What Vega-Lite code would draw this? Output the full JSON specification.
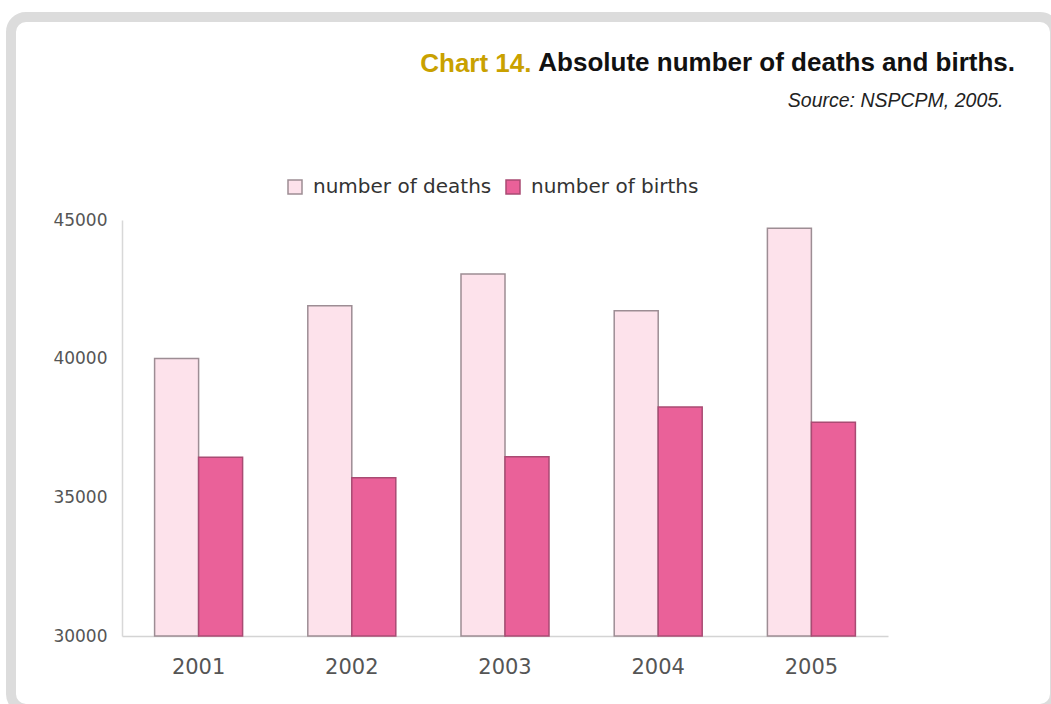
{
  "$schema": "https://vega.github.io/schema/vega-lite/v6.json",
  "width": 1044,
  "height": 692,
  "autosize": {"type": "none"},
  "padding": {"left": 11, "top": 17, "right": -4, "bottom": -5},
  "background": "white",
  "title": {
    "text": "Absolute number of deaths and births.",
    "anchor": "end",
    "frame": "group",
    "orient": "top",
    "offset": -80,
    "baseline": "alphabetic",
    "dx": -40,
    "font": "Liberation Sans",
    "fontSize": 26,
    "fontWeight": "bold",
    "color": "#111111"
  },
  "data": {
    "values": [
      {"year": "2001", "series": "number of deaths", "value": 40010},
      {"year": "2001", "series": "number of births", "value": 36444},
      {"year": "2002", "series": "number of deaths", "value": 41910},
      {"year": "2002", "series": "number of births", "value": 35708},
      {"year": "2003", "series": "number of deaths", "value": 43053},
      {"year": "2003", "series": "number of births", "value": 36465},
      {"year": "2004", "series": "number of deaths", "value": 41730},
      {"year": "2004", "series": "number of births", "value": 38257},
      {"year": "2005", "series": "number of deaths", "value": 44701},
      {"year": "2005", "series": "number of births", "value": 37706}
    ]
  },
  "mark": {"type": "bar", "strokeWidth": 1.5},
  "encoding": {
    "x": {
      "field": "year",
      "type": "nominal",
      "scale": {"range": [111, 877], "paddingInner": 0.4256, "paddingOuter": 0.2128},
      "axis": {
        "orient": "bottom",
        "offset": -73,
        "domainColor": "#d4d4d4",
        "domainWidth": 1.5,
        "ticks": false,
        "labelPadding": 20,
        "labelAngle": 0,
        "labelFont": "DejaVu Sans",
        "labelFontSize": 21,
        "labelColor": "#555555",
        "title": "Source: NSPCPM, 2005.",
        "titleX": 992,
        "titleY": -530,
        "titleAlign": "right",
        "titleBaseline": "alphabetic",
        "titleFont": "Liberation Sans",
        "titleFontSize": 19.5,
        "titleFontStyle": "italic",
        "titleFontWeight": "normal",
        "titleColor": "#222222"
      }
    },
    "xOffset": {
      "field": "series",
      "type": "nominal",
      "sort": ["number of deaths", "number of births"],
      "scale": {"paddingInner": 0, "paddingOuter": 0}
    },
    "y": {
      "field": "value",
      "type": "quantitative",
      "scale": {"domain": [30000, 45000], "range": [619, 203], "nice": false, "zero": false},
      "axis": {
        "offset": -111,
        "values": [30000, 35000, 40000, 45000],
        "format": "d",
        "grid": false,
        "domainColor": "#d8d8d8",
        "domainWidth": 1.5,
        "ticks": false,
        "labelPadding": 15,
        "labelFont": "DejaVu Sans",
        "labelFontSize": 17,
        "labelColor": "#555555",
        "title": "Chart 14.",
        "titleAngle": 0,
        "titleX": 409,
        "titleY": 54,
        "titleAlign": "right",
        "titleBaseline": "alphabetic",
        "titleFont": "Liberation Sans",
        "titleFontSize": 26,
        "titleFontWeight": "bold",
        "titleColor": "#c9a100"
      }
    },
    "y2": {"datum": 30000},
    "fill": {
      "field": "series",
      "type": "nominal",
      "scale": {"domain": ["number of deaths", "number of births"], "range": ["#fde2eb", "#ea6199"]},
      "legend": {
        "orient": "none",
        "legendX": 274,
        "legendY": 160,
        "direction": "horizontal",
        "title": null,
        "labelFont": "DejaVu Sans",
        "labelFontSize": 20,
        "labelColor": "#333333",
        "labelLimit": 0,
        "symbolType": "square",
        "symbolSize": 196,
        "symbolStrokeWidth": 1.5,
        "labelOffset": 8,
        "columnPadding": 11,
        "padding": 0
      }
    },
    "stroke": {
      "field": "series",
      "type": "nominal",
      "scale": {"domain": ["number of deaths", "number of births"], "range": ["#9d8d94", "#a94b73"]},
      "legend": {
        "orient": "none",
        "legendX": 274,
        "legendY": 160,
        "direction": "horizontal",
        "title": null,
        "labelFont": "DejaVu Sans",
        "labelFontSize": 20,
        "labelColor": "#333333",
        "labelLimit": 0,
        "symbolType": "square",
        "symbolSize": 196,
        "symbolStrokeWidth": 1.5,
        "labelOffset": 8,
        "columnPadding": 11,
        "padding": 0
      }
    }
  },
  "config": {
    "view": {"stroke": "#dcdcdc", "strokeWidth": 10, "cornerRadius": 15, "fill": "white"}
  }
}
